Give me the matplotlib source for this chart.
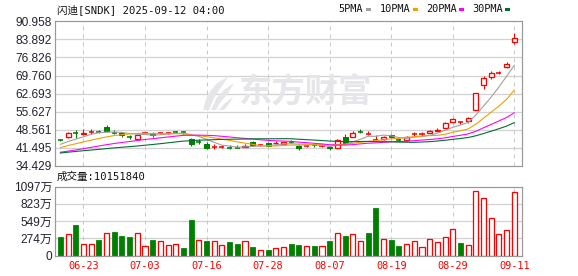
import matplotlib
matplotlib.use('Agg')
import matplotlib.pyplot as plt
import numpy as np
import pandas as pd
from matplotlib.patches import Rectangle, Polygon

# ---------------- data ----------------
dates = ['06-17', '06-18', '06-20', '06-23', '06-24', '06-25', '06-26', '06-27', '06-30',
         '07-01', '07-02', '07-03', '07-07', '07-08', '07-09', '07-10', '07-11', '07-14',
         '07-15', '07-16', '07-17', '07-18', '07-21', '07-22', '07-23', '07-24', '07-25',
         '07-28', '07-29', '07-30', '07-31', '08-01', '08-04', '08-05', '08-06', '08-07',
         '08-08', '08-11', '08-12', '08-13', '08-14', '08-15', '08-18', '08-19', '08-20',
         '08-21', '08-22', '08-25', '08-26', '08-27', '08-28', '08-29', '09-02', '09-03',
         '09-04', '09-05', '09-08', '09-09', '09-10', '09-11']

opens = [44.75, 45.77, 47.30, 47.00, 47.70, 47.75, 49.80, 47.55, 47.20, 45.85,
         45.00, 47.10, 47.45, 47.10, 47.15, 47.95, 47.65, 45.12, 44.05, 43.17,
         41.95, 41.95, 41.70, 41.65, 42.00, 43.69, 42.60, 43.56, 43.30, 42.90,
         43.75, 42.26, 42.20, 42.55, 42.35, 42.00, 41.60, 45.77, 45.90, 47.80,
         47.00, 44.55, 44.86, 46.68, 44.45, 44.60, 46.90, 46.95, 47.33, 48.10,
         49.28, 51.61, 51.40, 52.13, 56.42, 66.16, 69.02, 70.75, 72.92, 82.79]
highs = [44.99, 47.85, 48.50, 48.75, 48.90, 48.37, 50.45, 48.37, 47.85, 46.55,
         47.07, 47.85, 47.60, 47.70, 47.60, 48.24, 48.10, 45.50, 44.86, 43.70,
         42.90, 42.65, 42.65, 42.65, 42.90, 44.08, 43.17, 43.82, 44.20, 43.95,
         44.47, 42.65, 42.78, 43.00, 42.90, 42.39, 44.99, 46.80, 48.10, 48.70,
         47.98, 46.55, 46.29, 47.07, 45.38, 46.03, 47.72, 47.60, 48.63, 49.15,
         51.61, 53.30, 52.00, 53.56, 62.92, 69.40, 71.36, 71.36, 74.87, 86.43]
lows = [44.20, 45.25, 45.50, 46.55, 47.07, 47.33, 47.70, 46.80, 45.77, 45.00,
        44.47, 46.80, 45.90, 46.80, 46.80, 47.33, 47.07, 42.40, 42.90, 40.96,
        41.20, 41.35, 40.96, 41.35, 41.70, 42.52, 42.39, 42.13, 42.65, 42.78,
        43.43, 40.57, 41.87, 41.90, 42.00, 40.83, 41.35, 43.56, 45.90, 47.33,
        46.42, 44.08, 44.60, 45.38, 44.10, 44.20, 46.29, 46.29, 47.33, 48.10,
        49.15, 51.50, 50.97, 51.22, 56.42, 64.47, 68.37, 70.32, 72.53, 82.00]
closes = [44.60, 47.20, 47.15, 47.30, 47.85, 47.70, 48.10, 47.45, 46.55, 45.75,
          46.55, 47.20, 46.40, 47.20, 47.25, 47.85, 47.60, 43.17, 43.95, 41.60,
          42.00, 42.05, 41.60, 41.55, 42.40, 42.78, 42.65, 42.39, 43.45, 43.70,
          43.65, 41.60, 42.30, 42.45, 42.45, 41.35, 44.60, 43.56, 47.20, 47.70,
          47.10, 44.65, 45.90, 45.64, 44.35, 45.64, 46.95, 47.05, 47.98, 48.63,
          51.20, 52.78, 51.50, 53.17, 62.92, 68.76, 70.71, 70.85, 74.22, 84.35]
# closes of the 29 sessions before the first visible one (estimated from the MA lines)
history_closes = [37.5, 38.2, 39.0, 39.6, 39.9, 39.4, 38.8, 38.9, 39.1, 38.6,
                  38.3, 37.9, 37.6, 37.2, 37.5, 37.8, 38.1, 38.4, 38.6, 38.6,
                  39.2, 39.8, 40.4, 40.9, 41.2, 41.8, 42.3, 42.9, 42.9]

volumes = [297, 339, 488, 180, 180, 249, 355, 376, 313, 297,
           355, 148, 249, 228, 164, 180, 127, 567, 244, 233,
           228, 164, 217, 186, 228, 138, 85, 90, 117, 133,
           186, 170, 148, 154, 148, 233, 355, 313, 339, 228,
           360, 758, 260, 249, 154, 180, 228, 133, 260, 212,
           292, 419, 201, 164, 1020, 912, 594, 339, 403, 1015.184]  # 万
vol_up = [0, 1, 0, 1, 1, 0, 1, 0, 0, 0,
          1, 1, 0, 1, 1, 1, 0, 0, 1, 0,
          1, 1, 0, 0, 1, 0, 1, 0, 1, 1,
          0, 0, 1, 0, 1, 0, 1, 0, 1, 1,
          0, 0, 1, 0, 0, 1, 1, 1, 1, 1,
          1, 1, 0, 1, 1, 1, 1, 1, 1, 1]

ma_periods = [5, 10, 20, 30]
ma_labels = ['5PMA', '10PMA', '20PMA', '30PMA']
price_ticks = [34.429, 41.495, 48.561, 55.627, 62.693, 69.760, 76.826, 83.892, 90.958]
vol_ticks = [0, 274, 549, 823, 1097]
date_ticks = ['06-23', '07-03', '07-16', '07-28', '08-07', '08-19', '08-29', '09-11']
title = '闪迪[SNDK] 2025-09-12 04:00'
vol_title = '成交量:10151840'
watermark = '东方财富'

# ---------------- style ----------------
RED = '#ff0000'
GREEN = '#008000'
ma_colors = ['#a0a0a0', '#f0a000', '#ff00ff', '#006f2e']
GRID = '#d2d2d2'
SPINE = '#999999'
LBL = '#222233'
WM = '#e6e6ea'
MONO = ['DejaVu Sans Mono', 'Noto Sans CJK SC']
SANS = ['Liberation Sans', 'Noto Sans CJK SC']

W, H = 578, 276
fig = plt.figure(figsize=(W / 100, H / 100), dpi=100)
fig.patch.set_facecolor('white')


def rect(l, t, r, b):
    return [l / W, 1 - b / H, (r - l) / W, (b - t) / H]


def fpt(xp, yp):
    return (xp / W, 1 - yp / H)


ax = fig.add_axes(rect(55, 21.3, 522, 166))
axv = fig.add_axes(rect(55, 186.5, 522, 255.5))

n = len(dates)
x = np.arange(n)
xlim = (-0.7, n - 1 + 1.0)
tick_pos = [dates.index(d) for d in date_ticks]
px = 1 / 1.389  # 1 px in points

for a in (ax, axv):
    a.set_xlim(*xlim)
    for s in a.spines.values():
        s.set_color(SPINE)
        s.set_linewidth(1.2 * px)
    for tp in tick_pos:
        a.axvline(tp, color='#c8c8c8', lw=px, ls=(0, (4, 4)), zorder=0.5)

# price panel
ax.set_ylim(price_ticks[0], price_ticks[-1])
for v in price_ticks[1:-1]:
    ax.axhline(v, color=GRID, lw=1.3 * px, zorder=0.4)
ax.set_yticks(price_ticks)
ax.set_yticklabels([f'{v:.3f}' for v in price_ticks], fontfamily=SANS, fontsize=8.6, color=LBL)
ax.set_xticks([])
ax.tick_params(axis='y', length=0, pad=2)

# watermark (text + simple logo swoosh)
fig.text(*fpt(238, 93), watermark, fontsize=24, fontweight='bold',
         family=['Noto Sans CJK SC'], color=WM, va='center', ha='left', zorder=0.3)
logo_shapes = [
    [(203, 110), (207, 96), (216, 84), (229, 76), (222, 86), (214, 98), (209, 110)],
    [(211, 110), (216, 99), (224, 90), (234, 83), (228, 93), (220, 103), (216, 110)],
    [(219, 110), (225, 103), (233, 97), (229, 104), (224, 110)],
]
for shp in logo_shapes:
    fig.patches.append(Polygon([fpt(a, b) for a, b in shp], closed=True,
                               transform=fig.transFigure, facecolor=WM,
                               edgecolor='none', zorder=0.3))

bw = 0.66
for i in range(n):
    o, h, l, c = opens[i], highs[i], lows[i], closes[i]
    up = c >= o
    col = RED if up else GREEN
    lo_b, hi_b = min(o, c), max(o, c)
    if hi_b - lo_b < 0.15:
        ax.vlines(i, l, h, color=col, lw=1.1 * px, zorder=2)
        ax.hlines((o + c) / 2, i - bw / 2, i + bw / 2, color=col, lw=1.6 * px, zorder=2)
        continue
    ax.vlines(i, l, lo_b, color=col, lw=1.1 * px, zorder=2)
    ax.vlines(i, hi_b, h, color=col, lw=1.1 * px, zorder=2)
    if up:
        ax.add_patch(Rectangle((i - bw / 2, lo_b), bw, hi_b - lo_b, facecolor='white',
                               edgecolor=col, lw=1.3 * px, zorder=2.1))
    else:
        ax.add_patch(Rectangle((i - bw / 2, lo_b), bw, hi_b - lo_b, facecolor=col,
                               edgecolor=col, lw=1.0 * px, zorder=2.1))

full = pd.Series(history_closes + closes)
for p, colr in zip(ma_periods, ma_colors):
    ma = full.rolling(p).mean().iloc[len(history_closes):].to_numpy()
    ax.plot(x, ma, color=colr, lw=1.1 * px, zorder=3)

# volume panel
vmax = 1097.4
axv.set_ylim(0, vmax)
for v in vol_ticks[1:-1]:
    axv.axhline(v, color=GRID, lw=1.3 * px, zorder=0.4)
axv.set_yticks(vol_ticks)
axv.set_yticklabels(['0'] + [f'{v}万' for v in vol_ticks[1:]], fontfamily=SANS,
                    fontsize=8.6, color=LBL)
axv.tick_params(axis='y', length=0, pad=2)
axv.set_xticks(tick_pos)
axv.set_xticklabels(date_ticks, fontfamily=MONO, fontsize=7.4, color=RED)
axv.tick_params(axis='x', length=0, pad=4)

for i in range(n):
    if vol_up[i]:
        axv.add_patch(Rectangle((i - bw / 2, 0), bw, volumes[i], facecolor='white',
                                edgecolor=RED, lw=1.3 * px, zorder=2))
    else:
        axv.add_patch(Rectangle((i - bw / 2, 0), bw, volumes[i], facecolor=GREEN,
                                edgecolor=GREEN, lw=0.8 * px, zorder=2))

# titles
fig.text(*fpt(57, 10), title, family=MONO, fontsize=7.6, color='#111111',
         va='center', ha='left')
fig.text(*fpt(57, 177), vol_title, family=MONO, fontsize=7.6, color='#111111',
         va='center', ha='left')

# legend
leg_x = [338, 380, 426, 472]
sq_x = [366, 413, 459, 505]
for lab, colr, lx, sx in zip(ma_labels, ma_colors, leg_x, sq_x):
    fig.text(*fpt(lx, 9), lab, family=MONO, fontsize=7.4, color='#111111',
             va='center', ha='left')
    fig.patches.append(Rectangle(fpt(sx, 11), 5 / W, 3 / H, transform=fig.transFigure,
                                 facecolor=colr, edgecolor='none'))

fig.savefig('out.png', dpi=100, facecolor='white')
